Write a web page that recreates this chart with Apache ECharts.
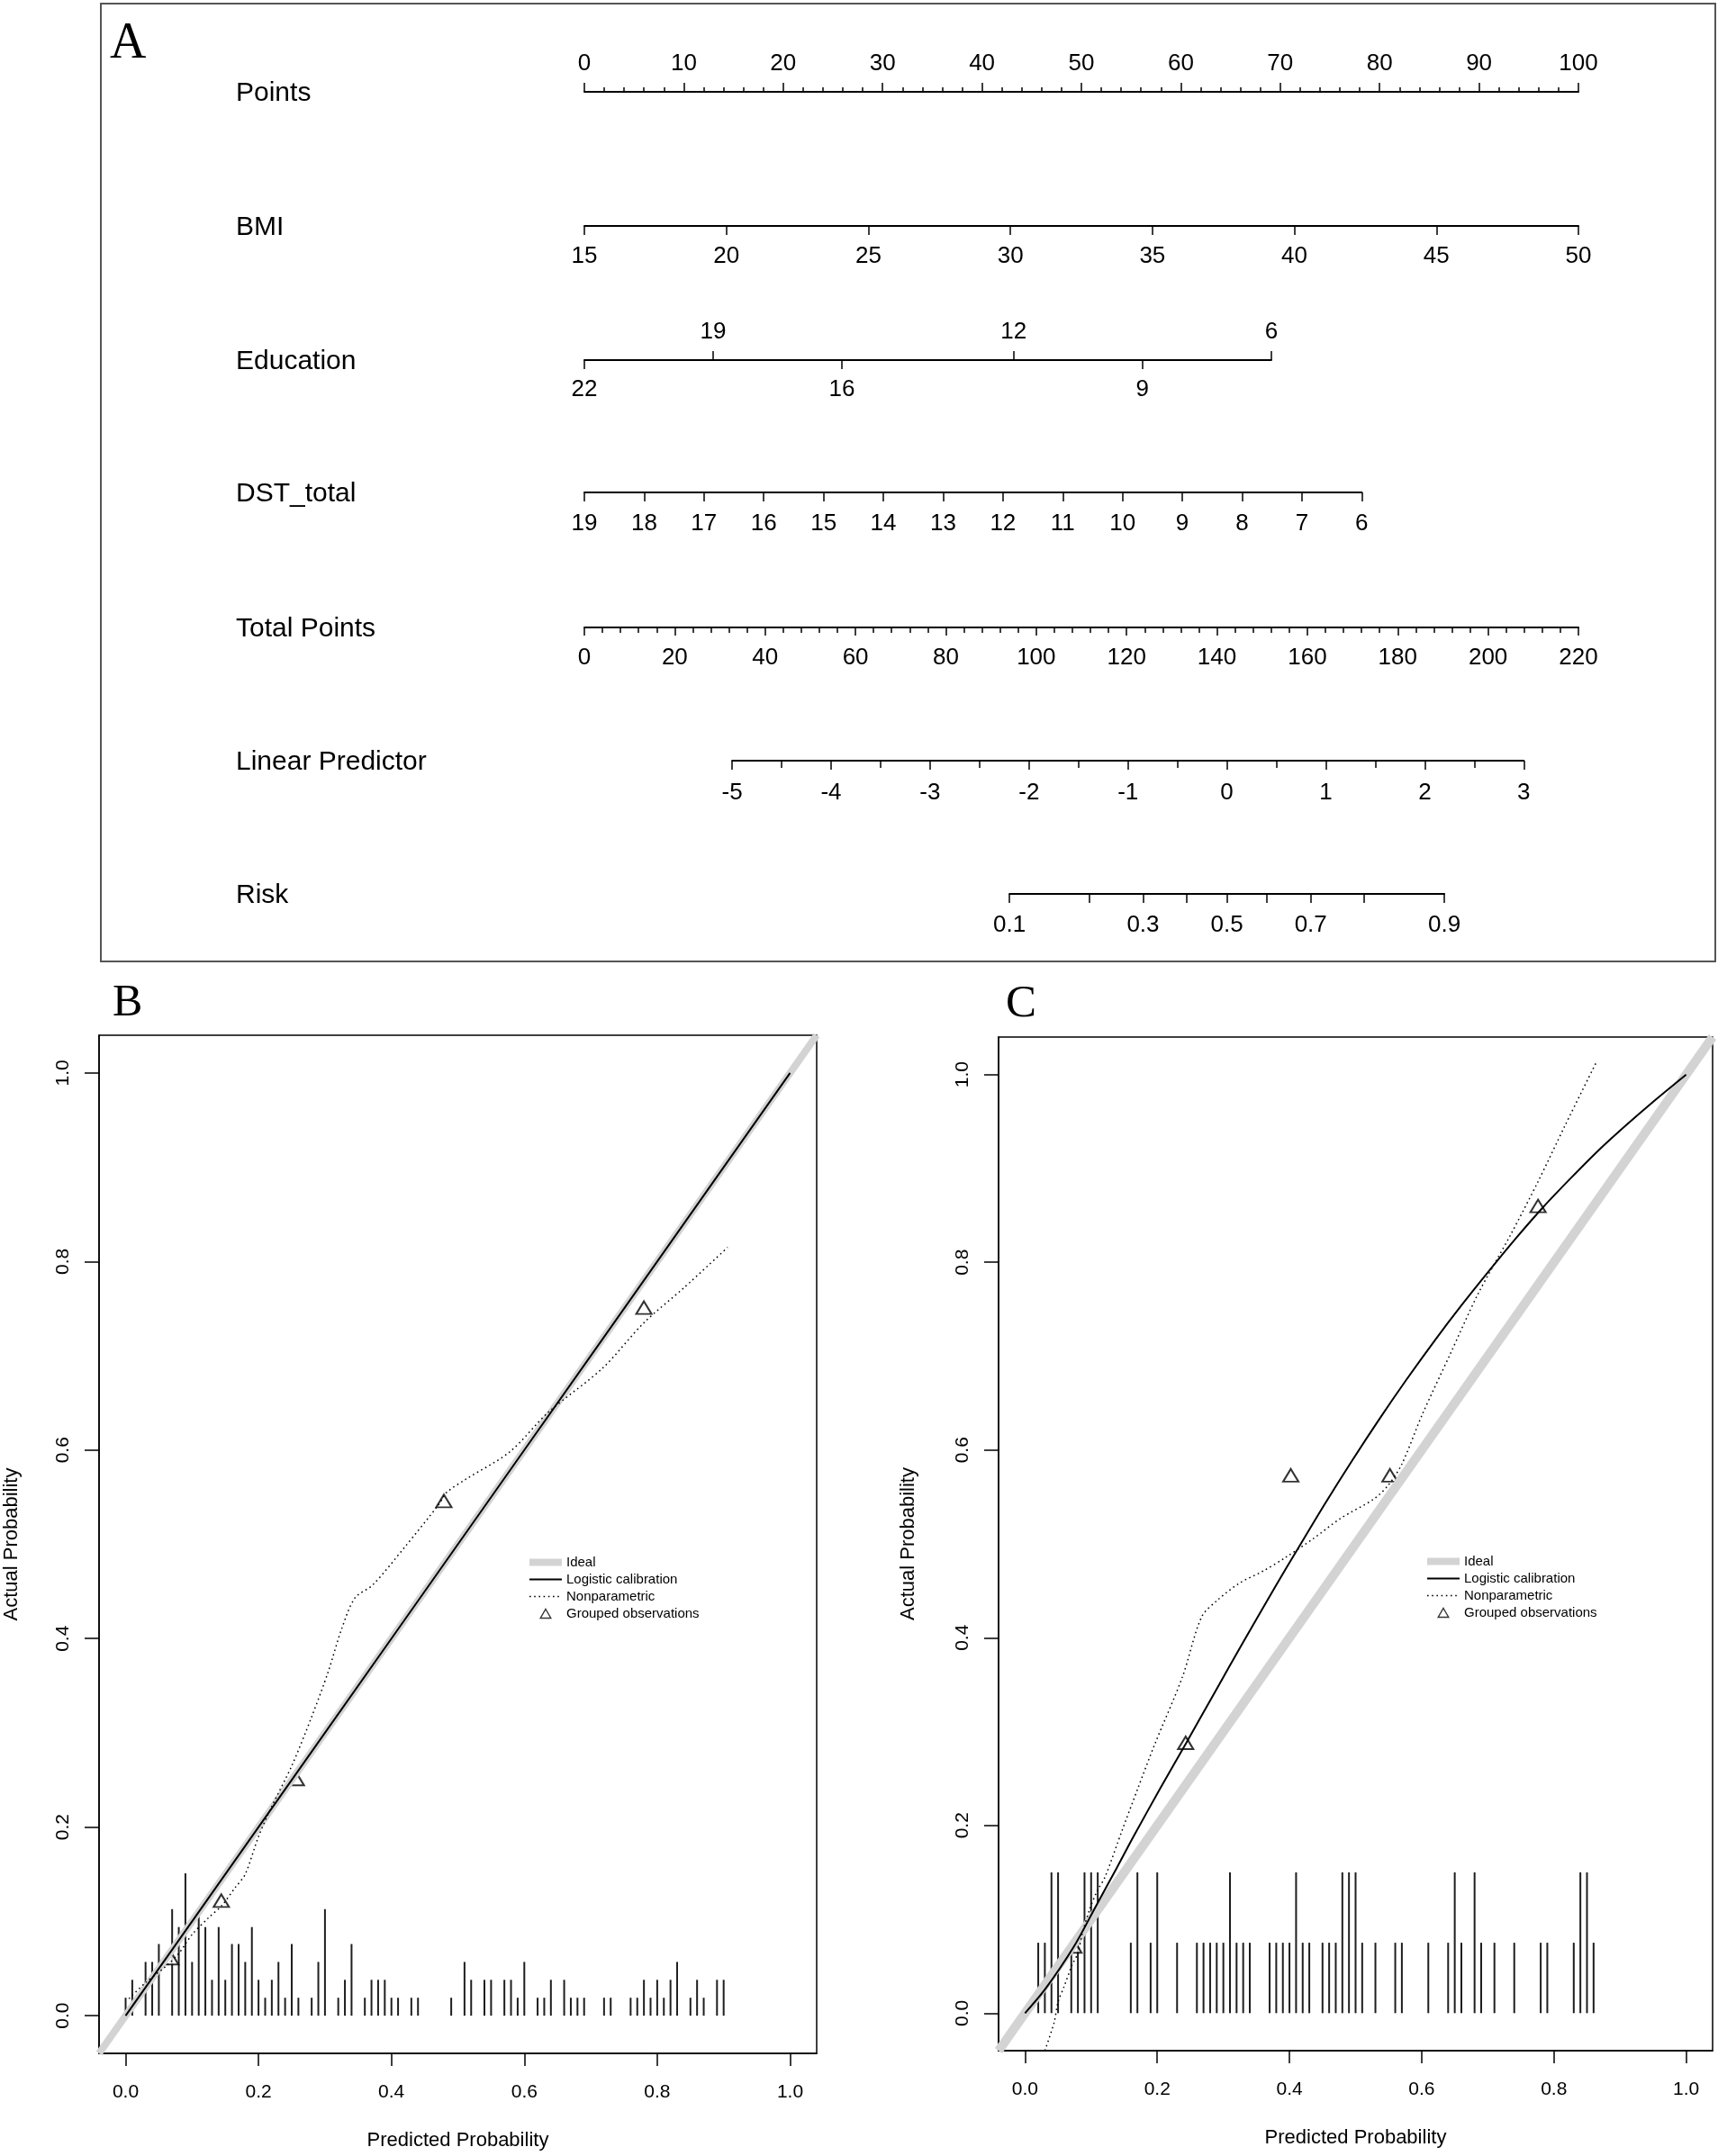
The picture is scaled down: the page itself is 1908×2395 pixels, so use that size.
<!DOCTYPE html>
<html>
<head>
<meta charset="utf-8">
<script src="https://cdn.jsdelivr.net/npm/echarts@6/dist/echarts.min.js"></script>
<style>html,body{margin:0;padding:0;background:#fff}#c{width:1908px;height:2395px}</style>
</head>
<body>
<div id="c"></div>
<script>
// ================= DATA =================
// Panel A: nomogram scales
const rowNames = ['Points', 'BMI', 'Education', 'DST_total', 'Total Points', 'Linear Predictor', 'Risk'];
const pointsRange = [0, 100];
const bmiRange = [15, 50];
const educationRange = [6, 22];
const educationTop = [19, 12, 6];
const educationBottom = [22, 16, 9];
const educationPointsAtMin = 69.1;   // points for Education = 6
const dstRange = [6, 19];
const dstPointsAtMin = 78.2;         // points for DST_total = 6
const totalPointsRange = [0, 220];
const lpRange = [-5, 3];
const lpTotalPoints = [32.7, 207.9]; // total points at LP = -5 and LP = 3
const riskTicks = [0.1, 0.2, 0.3, 0.4, 0.5, 0.6, 0.7, 0.8, 0.9];
const riskLabels = [0.1, 0.3, 0.5, 0.7, 0.9];

// Panels B, C: calibration
const probTicks = [0, 0.2, 0.4, 0.6, 0.8, 1.0];
const idealLine = [[-0.04, -0.04], [1.04, 1.04]];
const legendNames = ['Ideal', 'Logistic calibration', 'Nonparametric', 'Grouped observations'];

const logisticB = [[0, 0], [0.2, 0.2], [0.4, 0.4], [0.6, 0.6], [0.8, 0.8], [1.0, 1.0]];
const nonparB = [[0.005, 0.018], [0.03, 0.035], [0.06, 0.052], [0.08, 0.066], [0.10, 0.086], [0.125, 0.104],
  [0.145, 0.117], [0.165, 0.136], [0.18, 0.15], [0.20, 0.19], [0.22, 0.222], [0.25, 0.265], [0.28, 0.317],
  [0.305, 0.365], [0.325, 0.41], [0.345, 0.443], [0.372, 0.457], [0.42, 0.497], [0.471, 0.542], [0.483, 0.555],
  [0.512, 0.569], [0.578, 0.598], [0.636, 0.640], [0.718, 0.687], [0.780, 0.735], [0.84, 0.772], [0.906, 0.815]];
const groupedB = [[0.068, 0.061], [0.144, 0.122], [0.257, 0.251], [0.479, 0.546], [0.780, 0.751]];
const rugBx = [0.00, 0.01, 0.03, 0.04, 0.05, 0.07, 0.08, 0.09, 0.10, 0.11, 0.12, 0.13, 0.14, 0.15, 0.16, 0.17, 0.18,
  0.19, 0.20, 0.21, 0.22, 0.23, 0.24, 0.25, 0.26, 0.28, 0.29, 0.30, 0.32, 0.33, 0.34, 0.36, 0.37, 0.38, 0.39, 0.40,
  0.41, 0.43, 0.44, 0.49, 0.51, 0.52, 0.54, 0.55, 0.57, 0.58, 0.59, 0.60, 0.62, 0.63, 0.64, 0.66, 0.67, 0.68, 0.69,
  0.72, 0.73, 0.76, 0.77, 0.78, 0.79, 0.80, 0.81, 0.82, 0.83, 0.85, 0.86, 0.87, 0.89, 0.90];
const rugBh = [0.019, 0.038, 0.057, 0.057, 0.076,
  0.113, 0.094, 0.151, 0.057, 0.113, 0.094, 0.038, 0.094, 0.038, 0.076, 0.076, 0.057, 0.094, 0.038, 0.019,
  0.038, 0.057, 0.019, 0.076, 0.019,
  0.019, 0.057, 0.113,
  0.019, 0.038, 0.076,
  0.019, 0.038, 0.038, 0.038, 0.019, 0.019,
  0.019, 0.019,
  0.019,
  0.057, 0.038,
  0.038, 0.038,
  0.038, 0.038, 0.019, 0.057,
  0.019, 0.019, 0.038,
  0.038, 0.019, 0.019, 0.019,
  0.019, 0.019,
  0.019, 0.019, 0.038, 0.019, 0.038, 0.019, 0.038, 0.057,
  0.019, 0.038, 0.019,
  0.038, 0.038];

const logisticC = [[0, 0], [0.031, 0.026], [0.074, 0.071], [0.108, 0.115], [0.139, 0.155], [0.164, 0.188],
  [0.205, 0.240], [0.244, 0.288], [0.288, 0.343], [0.329, 0.394], [0.379, 0.455], [0.412, 0.494], [0.453, 0.542],
  [0.495, 0.589], [0.536, 0.633], [0.577, 0.675], [0.619, 0.716], [0.660, 0.754], [0.702, 0.791], [0.743, 0.826],
  [0.784, 0.859], [0.826, 0.890], [0.867, 0.919], [0.909, 0.946], [0.950, 0.971], [1.0, 1.0]];
const nonparC = [[0.030, -0.04], [0.044, -0.01], [0.050, 0.012], [0.059, 0.028], [0.071, 0.051], [0.080, 0.064],
  [0.087, 0.086], [0.098, 0.111], [0.109, 0.130], [0.121, 0.145], [0.147, 0.195], [0.171, 0.24], [0.196, 0.286],
  [0.238, 0.358], [0.267, 0.422], [0.291, 0.440], [0.324, 0.458], [0.36, 0.471], [0.393, 0.485], [0.435, 0.505],
  [0.477, 0.527], [0.528, 0.548], [0.55, 0.563], [0.57, 0.585], [0.601, 0.638], [0.643, 0.702], [0.685, 0.766],
  [0.735, 0.830], [0.776, 0.886], [0.817, 0.946], [0.864, 1.013]];
const groupedC = [[0.074, 0.071], [0.243, 0.288], [0.402, 0.573], [0.552, 0.573], [0.776, 0.860]];
const rugCx = [0.02, 0.03, 0.04, 0.05, 0.07, 0.08, 0.09, 0.10, 0.11,
  0.16, 0.17, 0.19, 0.20, 0.23,
  0.26, 0.27, 0.28, 0.29, 0.30, 0.31, 0.32, 0.33, 0.34,
  0.37, 0.38, 0.39, 0.40, 0.41, 0.42, 0.43,
  0.45, 0.46, 0.47, 0.48, 0.49, 0.50, 0.51,
  0.53, 0.56, 0.57, 0.61, 0.64, 0.65, 0.66, 0.68, 0.69, 0.71, 0.74, 0.78, 0.79,
  0.83, 0.84, 0.85, 0.86];
const rugCh = [0.075, 0.075, 0.150, 0.150, 0.075, 0.075, 0.150, 0.150, 0.150,
  0.075, 0.150, 0.075, 0.150, 0.075,
  0.075, 0.075, 0.075, 0.075, 0.075, 0.150, 0.075, 0.075, 0.075,
  0.075, 0.075, 0.075, 0.075, 0.150, 0.075, 0.075,
  0.075, 0.075, 0.075, 0.150, 0.150, 0.150, 0.075,
  0.075, 0.075, 0.075, 0.075, 0.075, 0.150, 0.075, 0.150, 0.075, 0.075, 0.075, 0.075, 0.075,
  0.075, 0.150, 0.150, 0.075];

// ================= LAYOUT =================
const FONT = 'Liberation Sans';
const PX0 = 649, PX1 = 1753;            // pixel span of the Points scale
const rowY = [102, 251, 400, 547, 697, 845, 993];
const ptsX = p => PX0 + (p - pointsRange[0]) * (PX1 - PX0) / (pointsRange[1] - pointsRange[0]);
const tpX = t => PX0 + (t - totalPointsRange[0]) * (PX1 - PX0) / (totalPointsRange[1] - totalPointsRange[0]);
const lpX = v => tpX(lpTotalPoints[0] + (v - lpRange[0]) * (lpTotalPoints[1] - lpTotalPoints[0]) / (lpRange[1] - lpRange[0]));
const logit = p => Math.log(p / (1 - p));
const expit = v => 1 / (1 + Math.exp(-v));

function rowGrid(x0, x1, y) {
  return { left: x0, width: x1 - x0, top: y, height: 0, containLabel: false, outerBoundsMode: 'none' };
}
const grids = [
  rowGrid(ptsX(0), ptsX(100), rowY[0]),
  rowGrid(ptsX(0), ptsX(100), rowY[1]),
  rowGrid(ptsX(0), ptsX(educationPointsAtMin), rowY[2]),
  rowGrid(ptsX(0), ptsX(dstPointsAtMin), rowY[3]),
  rowGrid(tpX(0), tpX(220), rowY[4]),
  rowGrid(lpX(lpRange[0]), lpX(lpRange[1]), rowY[5]),
  rowGrid(lpX(logit(riskTicks[0])), lpX(logit(riskTicks[riskTicks.length - 1])), rowY[6]),
  { left: 110, top: 1150, width: 797, height: 1131, show: true, borderColor: '#000', borderWidth: 1.5,
    backgroundColor: 'transparent', containLabel: false, outerBoundsMode: 'none' },
  { left: 1109, top: 1152, width: 793, height: 1126, show: true, borderColor: '#000', borderWidth: 1.5,
    backgroundColor: 'transparent', containLabel: false, outerBoundsMode: 'none' }
];

const blk = { color: '#000', width: 2 };
const tickStyle = { color: '#000', width: 1.5 };
function nomoAxis(gi, pos, o) {
  const a = {
    type: 'value', gridIndex: gi, position: pos,
    axisLine: { show: true, onZero: false, lineStyle: blk },
    axisTick: { show: true, inside: false, length: 10, lineStyle: tickStyle },
    axisLabel: { show: true, margin: 20, color: '#000', fontSize: 26, fontFamily: FONT },
    splitLine: { show: false }, minorSplitLine: { show: false }, splitArea: { show: false }
  };
  Object.assign(a, o.base || {});
  Object.assign(a.axisTick, o.tick || {});
  Object.assign(a.axisLabel, o.label || {});
  if (o.line) Object.assign(a.axisLine, o.line);
  if (o.minor) a.minorTick = Object.assign({ show: true, lineStyle: tickStyle }, o.minor);
  return a;
}

const xAxes = [
  nomoAxis(0, 'top', { base: { min: 0, max: 100, interval: 10 }, tick: { length: 10 }, label: { margin: 18 },
    minor: { splitNumber: 5, length: 5 } }),
  nomoAxis(1, 'bottom', { base: { min: bmiRange[0], max: bmiRange[1], interval: 5 }, label: { margin: 21 } }),
  nomoAxis(2, 'bottom', { base: { min: educationRange[0], max: educationRange[1], inverse: true },
    tick: { customValues: educationBottom }, label: { customValues: educationBottom, margin: 20 } }),
  nomoAxis(2, 'top', { base: { min: educationRange[0], max: educationRange[1], inverse: true },
    line: { show: false }, tick: { customValues: educationTop }, label: { customValues: educationTop, margin: 18 } }),
  nomoAxis(3, 'bottom', { base: { min: dstRange[0], max: dstRange[1], inverse: true, interval: 1 }, label: { margin: 22 } }),
  nomoAxis(4, 'bottom', { base: { min: totalPointsRange[0], max: totalPointsRange[1], interval: 20 },
    tick: { length: 9 }, label: { margin: 21 }, minor: { splitNumber: 5, length: 6 } }),
  nomoAxis(5, 'bottom', { base: { min: lpRange[0], max: lpRange[1], interval: 1 },
    tick: { length: 10 }, label: { margin: 23 }, minor: { splitNumber: 2, length: 8 } }),
  nomoAxis(6, 'bottom', { base: { min: logit(riskTicks[0]), max: logit(riskTicks[riskTicks.length - 1]) },
    tick: { customValues: riskTicks.map(logit) },
    label: { customValues: riskLabels.map(logit), margin: 22, formatter: v => expit(v).toFixed(1) } })
];

function calAxis(gi, isX, nameGap) {
  return {
    type: 'value', gridIndex: gi, min: -0.04, max: 1.04,
    axisLine: { show: true, onZero: false, lineStyle: { color: '#000', width: 1.5 } },
    axisTick: { show: true, inside: false, length: isX ? 14 : 16, customValues: probTicks, lineStyle: tickStyle },
    axisLabel: { show: true, customValues: probTicks, formatter: v => v.toFixed(1), margin: isX ? 33 : 29,
      rotate: isX ? 0 : 90, color: '#000', fontSize: 21, fontFamily: FONT },
    splitLine: { show: false }, minorSplitLine: { show: false },
    name: isX ? 'Predicted Probability' : 'Actual Probability',
    nameLocation: 'middle', nameGap: nameGap,
    nameTextStyle: { color: '#000', fontSize: 22, fontFamily: FONT }
  };
}
xAxes.push(calAxis(7, true, 86), calAxis(8, true, 86));

const yAxes = [];
for (let i = 0; i < 7; i++) yAxes.push({ type: 'value', gridIndex: i, show: false, min: 0, max: 1 });
yAxes.push(calAxis(7, false, 86), calAxis(8, false, 89));

function rugSeries(xi, yi, xs, hs) {
  return {
    type: 'custom', xAxisIndex: xi, yAxisIndex: yi, silent: true,
    data: xs.map((x, i) => [x, hs[i]]),
    renderItem: (params, api) => {
      const p0 = api.coord([api.value(0), 0]);
      const p1 = api.coord([api.value(0), api.value(1)]);
      return { type: 'line', shape: { x1: p0[0], y1: p0[1], x2: p1[0], y2: p1[1] },
        style: { stroke: '#1e1e1e', lineWidth: 2 } };
    }
  };
}
function calSeries(xi, yi, idealWidth, logistic, nonpar, grouped, rx, rh) {
  return [
    { type: 'line', name: legendNames[0], xAxisIndex: xi, yAxisIndex: yi, data: idealLine, symbol: 'none',
      lineStyle: { color: '#d3d3d3', width: idealWidth }, itemStyle: { color: '#d3d3d3' }, silent: true },
    { type: 'line', name: legendNames[1], xAxisIndex: xi, yAxisIndex: yi, data: logistic, symbol: 'none', smooth: 0.3,
      lineStyle: { color: '#000', width: 2 }, itemStyle: { color: '#000' }, silent: true },
    { type: 'line', name: legendNames[2], xAxisIndex: xi, yAxisIndex: yi, data: nonpar, symbol: 'none', smooth: 0.3,
      lineStyle: { color: '#000', width: 1.5, type: [1.6, 3.6] }, itemStyle: { color: '#000' }, silent: true },
    { type: 'scatter', name: legendNames[3], xAxisIndex: xi, yAxisIndex: yi, data: grouped,
      symbol: 'emptyTriangle', symbolSize: [17, 14],
      itemStyle: { color: '#000', borderColor: '#000', borderWidth: 1.7 }, silent: true },
    rugSeries(xi, yi, rx, rh)
  ];
}
const series = [].concat(
  calSeries(8, 7, 8, logisticB, nonparB, groupedB, rugBx, rugBh),
  calSeries(9, 8, 10, logisticC, nonparC, groupedC, rugCx, rugCh)
);

function legendAt(left, top) {
  return {
    orient: 'vertical', left: left, top: top, itemWidth: 36, itemHeight: 10, itemGap: 4,
    data: [
      { name: legendNames[0], itemStyle: { opacity: 0 } },
      { name: legendNames[1], itemStyle: { opacity: 0 } },
      { name: legendNames[2], itemStyle: { opacity: 0 } },
      { name: legendNames[3], icon: 'path://M5,0L10,8.66L0,8.66Z',
        itemStyle: { color: '#fff', borderColor: '#000', borderWidth: 1.4 } }
    ],
    selectedMode: false, padding: 0,
    textStyle: { color: '#000', fontSize: 15, fontFamily: FONT, lineHeight: 15 },
    lineStyle: { width: 'inherit', type: 'inherit', color: 'inherit' }
  };
}

const graphics = [
  { type: 'rect', shape: { x: 112, y: 4, width: 1793, height: 1064 }, style: { fill: 'none', stroke: '#555', lineWidth: 2 }, silent: true },
  { type: 'text', x: 122, y: 49, style: { text: 'A', font: '56px "Liberation Serif"', fill: '#000', align: 'left', verticalAlign: 'middle' } },
  { type: 'text', x: 125, y: 1115, style: { text: 'B', font: '50px "Liberation Serif"', fill: '#000', align: 'left', verticalAlign: 'middle' } },
  { type: 'text', x: 1117, y: 1116, style: { text: 'C', font: '51px "Liberation Serif"', fill: '#000', align: 'left', verticalAlign: 'middle' } }
];
rowNames.forEach((n, i) => {
  graphics.push({ type: 'text', x: 262, y: rowY[i] + 2,
    style: { text: n, font: '30px "' + FONT + '"', fill: '#000', align: 'left', verticalAlign: 'middle' } });
});

const chart = echarts.init(document.getElementById('c'), null, { renderer: 'canvas', width: 1908, height: 2395 });
chart.setOption({
  animation: false,
  backgroundColor: '#fff',
  textStyle: { fontFamily: FONT, color: '#000' },
  grid: grids,
  xAxis: xAxes,
  yAxis: yAxes,
  legend: [legendAt(584, 1728), legendAt(1581, 1727)],
  series: series,
  graphic: graphics
});
</script>
</body>
</html>
